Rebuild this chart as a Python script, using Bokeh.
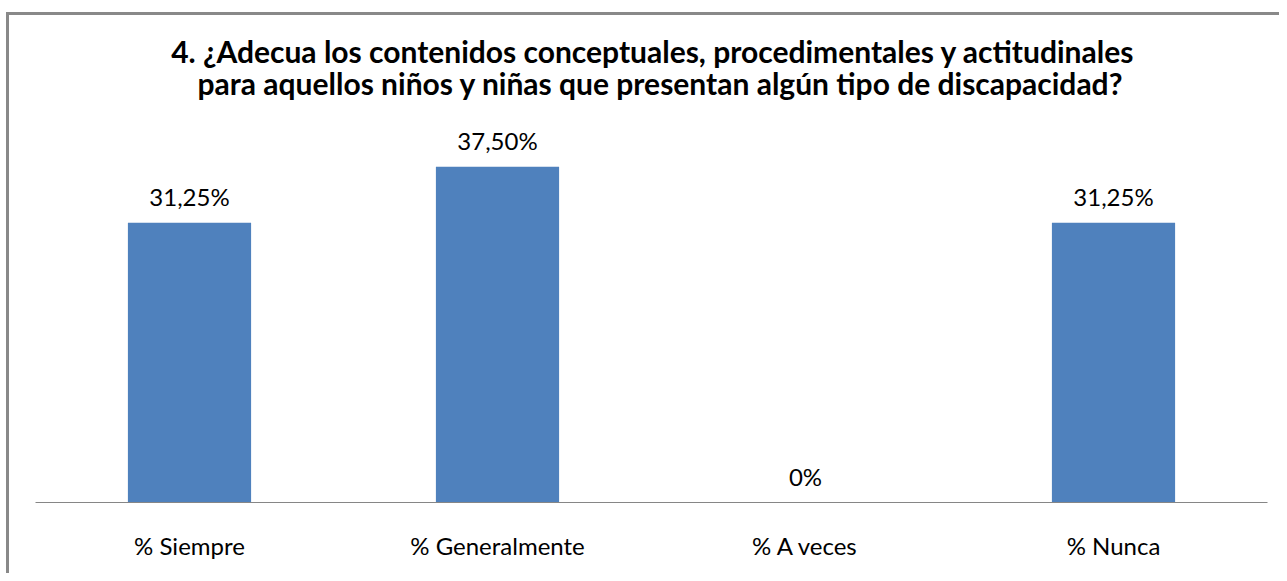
from bokeh.plotting import figure
from bokeh.models import ColumnDataSource, FactorRange, Range1d, Label
from bokeh.core.properties import value
from bokeh.embed import file_html
from bokeh.resources import INLINE

categories = ["% Siempre", "% Generalmente", "% A veces", "% Nunca"]
values = [31.25, 37.50, 0.0, 31.25]
labels = ["31,25%", "37,50%", "0%", "31,25%"]
title_lines = ["4. ¿Adecua los contenidos conceptuales, procedimentales y actitudinales",
               "para aquellos niños y niñas que presentan algún tipo de discapacidad?"]

src = ColumnDataSource(dict(cat=categories, val=values, lab=labels))

W, H = 1279, 573
Y_END = 53.85
p = figure(width=W, height=H, output_backend="svg", toolbar_location=None,
           x_range=FactorRange(*categories, range_padding=0),
           y_range=Range1d(0, Y_END),
           min_border_left=35, min_border_right=12, min_border_bottom=71, min_border_top=20)
p.title.visible = False

TITLE_STYLE = dict(text_font="Lato", text_font_size="30px", text_font_style="bold", text_color="#000000",
                   text_align="center", text_baseline="alphabetic")

# two-line chart title, centred over the categories
mid = len(categories) / 2
p.add_layout(Label(x=mid + 0.005, y=Y_END - 3.41, text=title_lines[0], **TITLE_STYLE))
p.add_layout(Label(x=mid + 0.03, y=Y_END - 6.98, text=title_lines[1], **TITLE_STYLE))

p.vbar(x="cat", top="val", width=0.4, source=src, fill_color="#4F81BD", line_color=None)
p.text(x="cat", y="val", text="lab", source=src, text_align="center", text_baseline="middle",
       y_offset=-26, text_font=value("Lato"), text_font_size="24px", text_color="#000000")

p.yaxis.visible = False
p.xgrid.visible = False
p.ygrid.visible = False
p.outline_line_color = None
p.border_fill_alpha = 0
p.background_fill_alpha = 0
xa = p.xaxis[0]
xa.axis_line_color = "#868686"
xa.axis_line_width = 1
xa.major_tick_line_color = None
xa.minor_tick_line_color = None
xa.major_tick_in = 0
xa.major_tick_out = 0
xa.major_label_standoff = 28
xa.major_label_text_font = "Lato"
xa.major_label_text_font_size = "24px"
xa.major_label_text_color = "#000000"

# chart-area border (top and left edges visible)
p.styles = {"background-color": "#ffffff",
            "box-shadow": "inset 6px 12px 0 0 #ffffff, inset 9px 15px 0 0 #898989"}

open("out.html", "w").write(file_html(p, INLINE))
